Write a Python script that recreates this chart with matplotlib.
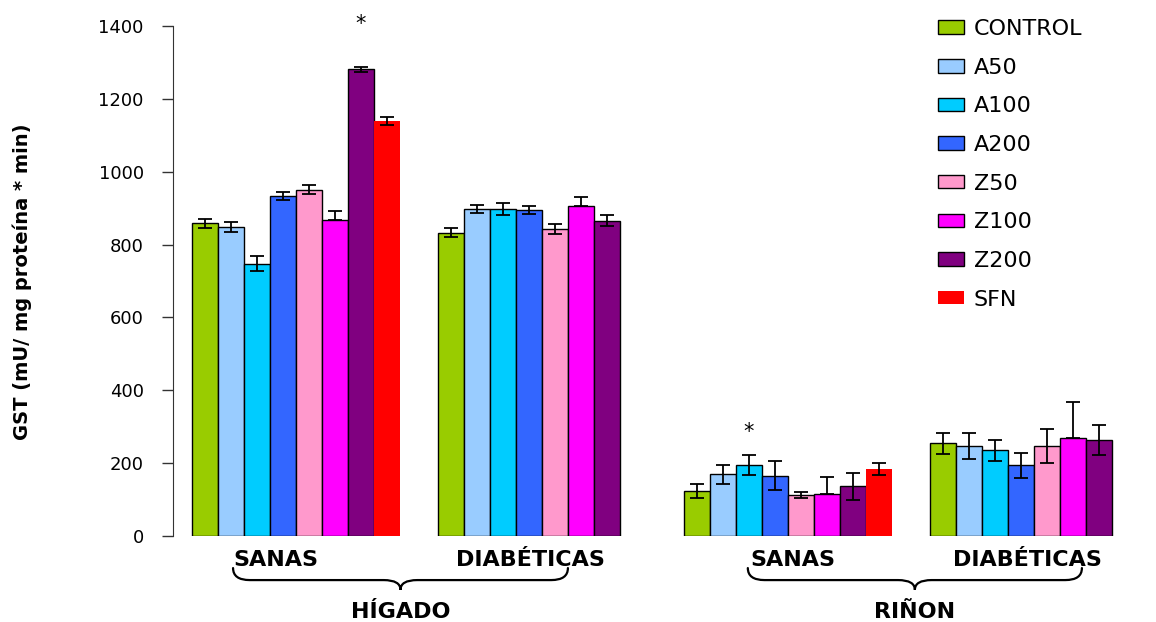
import numpy as np
import matplotlib.pyplot as plt
from matplotlib.patches import Patch, PathPatch
from matplotlib.path import Path

series = ['CONTROL', 'A50', 'A100', 'A200', 'Z50', 'Z100', 'Z200', 'SFN']
colors = ['#99CC00', '#99CCFF', '#00CCFF', '#3366FF', '#FF99CC', '#FF00FF', '#800080', '#FF0000']

# GST activity, mean and error, one list per tissue / condition
higado_sanas = [858, 848, 748, 933, 951, 868, 1281, 1139]
higado_sanas_err = [13, 14, 20, 11, 12, 25, 7, 11]
higado_diab = [833, 899, 897, 895, 842, 905, 866]
higado_diab_err = [13, 11, 16, 11, 14, 25, 14]
rinon_sanas = [124, 169, 194, 166, 112, 114, 136, 184]
rinon_sanas_err = [20, 26, 27, 40, 9, 49, 36, 17]
rinon_diab = [254, 247, 235, 194, 247, 269, 263]
rinon_diab_err = [29, 36, 28, 34, 46, 100, 42]

groups = [higado_sanas, higado_diab, rinon_sanas, rinon_diab]
group_errs = [higado_sanas_err, higado_diab_err, rinon_sanas_err, rinon_diab_err]
group_labels = ['SANAS', 'DIABÉTICAS', 'SANAS', 'DIABÉTICAS']
organs = ['HÍGADO', 'RIÑON']
yticks = [0, 200, 400, 600, 800, 1000, 1200, 1400]

# significance marks: (group, series index, y)
stars = [(0, 6, 1405), (2, 2, 285)]

group_start = [0, 9.46, 18.92, 28.38]
label_x = [3.23, 13.0, 23.1, 32.15]
brace_spans = [(1.58, 14.46), (21.38, 34.23)]
bw = 1.0

fig = plt.figure(figsize=(11.56, 6.22), dpi=100)
ax = fig.add_axes([173/1156, 86/622, 983/1156, 510/622])

for g, (vals, errs) in enumerate(zip(groups, group_errs)):
    for i, (v, e) in enumerate(zip(vals, errs)):
        x = group_start[g] + i * bw + bw / 2
        ec = 'none' if series[i] == 'SFN' else 'black'
        ax.bar(x, v, width=bw, color=colors[i], edgecolor=ec, linewidth=1.0, zorder=2)
        lower = 0 if series[i] == 'Z100' else e
        ax.errorbar(x, v, yerr=[[lower], [e]], fmt='none', ecolor='black',
                    elinewidth=1.3, capsize=5, capthick=1.3, zorder=3)

for g, i, y in stars:
    x = group_start[g] + i * bw + bw / 2
    ax.text(x, y, '*', ha='center', va='center', fontsize=15, color='black')

ax.set_ylim(0, 1400)
ax.set_xlim(-0.73, 37.08)
ax.set_yticks(yticks)
ax.tick_params(axis='y', length=8, width=1, color='#333333', pad=13, labelsize=13)
ax.set_xticks([])
for side in ['top', 'right', 'bottom']:
    ax.spines[side].set_visible(False)
ax.spines['left'].set_color('#333333')
ax.spines['left'].set_bounds(0, 1400)

# group labels under the bars
for xc, lab in zip(label_x, group_labels):
    ax.text(xc, -66, lab, ha='center', va='center', fontsize=16,
            fontweight='bold', clip_on=False)


def brace(x0, x1, y_end, y_mid, y_tip):
    xm = (x0 + x1) / 2
    r = (x1 - x0) * 0.05
    verts = [(x0, y_end), (x0, y_mid), (x0 + r, y_mid),
             (xm - r, y_mid), (xm, y_mid), (xm, y_tip),
             (xm, y_mid), (xm + r, y_mid),
             (x1 - r, y_mid), (x1, y_mid), (x1, y_end)]
    codes = [Path.MOVETO, Path.CURVE3, Path.CURVE3,
             Path.LINETO, Path.CURVE3, Path.CURVE3,
             Path.CURVE3, Path.CURVE3,
             Path.LINETO, Path.CURVE3, Path.CURVE3]
    return PathPatch(Path(verts, codes), fill=False, lw=1.6, color='black',
                     clip_on=False, capstyle='round')


for (b0, b1), organ in zip(brace_spans, organs):
    ax.add_patch(brace(b0, b1, -88, -121, -148))
    ax.text((b0 + b1) / 2, -209, organ, ha='center', va='center',
            fontsize=16, fontweight='bold', clip_on=False)

handles = []
for s, c in zip(series, colors):
    ec = 'none' if s == 'SFN' else 'black'
    handles.append(Patch(facecolor=c, edgecolor=ec, linewidth=1.0, label=s))
fig.legend(handles=handles, loc='upper left', bbox_to_anchor=(938/1156, 1 - 19/622),
           frameon=False, fontsize=16, handlelength=1.15, handleheight=0.55,
           handletextpad=0.45, labelspacing=0.84, borderpad=0, borderaxespad=0)

fig.text(22/1156, 1 - 282/622, 'GST (mU/ mg proteína * min)', rotation=90,
         ha='center', va='center', fontsize=14, fontweight='bold')

fig.savefig('out.png', dpi=100)
